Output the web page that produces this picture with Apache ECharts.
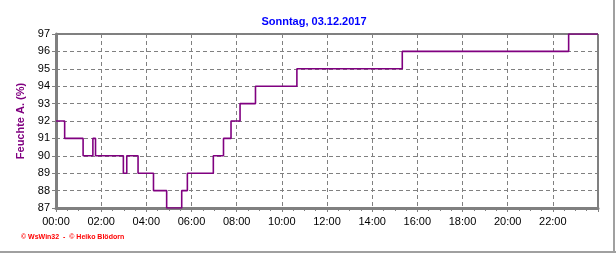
<!DOCTYPE html>
<html>
<head>
<meta charset="utf-8">
<script src="https://cdn.jsdelivr.net/npm/echarts@6/dist/echarts.min.js"></script>
<style>
html,body{margin:0;padding:0;background:#fff;}
#c{width:616px;height:253px;}
</style>
</head>
<body>
<div id="c"></div>
<script>
// Data
const titleText = 'Sonntag, 03.12.2017';
const yAxisName = 'Feuchte A. (%)';
const creditText = '\u00a9 WsWin32  -  \u00a9 Heiko Bl\u00f6dorn';
const changeTimes = ['00:00','00:23','01:12','01:38','01:45','02:59','03:08','03:38','04:19','04:54','05:34','05:49','06:58','07:25','07:45','08:09','08:50','10:40','15:20','22:42','24:00'];
const humidity    = [92, 91, 90, 91, 90, 89, 90, 89, 88, 87, 88, 89, 90, 91, 92, 93, 94, 95, 96, 97, 97];
const xTickLabels = ['00:00','02:00','04:00','06:00','08:00','10:00','12:00','14:00','16:00','18:00','20:00','22:00'];

function toMin(s){const p=s.split(':');return (+p[0])*60+(+p[1]);}
const seriesData = changeTimes.map((t,i)=>[toMin(t), humidity[i]]);

const chart = echarts.init(document.getElementById('c'), null, {renderer:'canvas'});
chart.setOption({
  animation:false,
  backgroundColor:'#ffffff',
  title:{
    text:titleText, left:309, top:11, textAlign:'center',
    textStyle:{color:'#0000ff', fontFamily:'Liberation Sans, Arial, sans-serif', fontSize:11, fontWeight:'bold'}
  },
  grid:{left:56, right:18, top:34, bottom:45, show:true, borderColor:'#000000', borderWidth:1, backgroundColor:'transparent'},
  xAxis:{
    type:'value', min:0, max:1440, interval:120,
    axisLine:{show:true, onZero:false, lineStyle:{color:'#808080', width:3}},
    axisTick:{show:true, length:4, lineStyle:{color:'#808080', width:1}},
    minorTick:{show:true, splitNumber:4, length:3, lineStyle:{color:'#808080', width:1}},
    axisLabel:{
      color:'#000', fontFamily:'Liberation Sans, Arial, sans-serif', fontSize:11, margin:8,
      showMaxLabel:false,
      formatter:(v)=>{const i=Math.round(v/120);return xTickLabels[i]!==undefined?xTickLabels[i]:'';}
    },
    splitLine:{show:true, lineStyle:{color:'#808080', type:[4,3], width:1}}
  },
  yAxis:{
    type:'value', min:87, max:97, interval:1,
    name:yAxisName, nameLocation:'middle', nameGap:25,
    nameTextStyle:{color:'#800080', fontFamily:'Liberation Sans, Arial, sans-serif', fontSize:11, fontWeight:'bold'},
    axisLine:{show:true, lineStyle:{color:'#808080', width:3}},
    axisTick:{show:true, length:4, lineStyle:{color:'#808080', width:1}},
    axisLabel:{color:'#000', fontFamily:'Liberation Sans, Arial, sans-serif', fontSize:11, margin:6},
    splitLine:{show:true, lineStyle:{color:'#808080', type:[4,3], width:1}}
  },
  series:[{
    type:'line', step:'end', data:seriesData, symbol:'none',
    lineStyle:{color:'#800080', width:1.6}, z:3
  }],
  graphic:[
    {type:'text', left:21, top:234, style:{text:creditText, fill:'#ff0000', font:'bold 7px Liberation Sans, Arial, sans-serif'}},
    {type:'line', shape:{x1:614, y1:0, x2:614, y2:253}, style:{stroke:'#a0a0a0', lineWidth:2}},
    {type:'line', shape:{x1:0, y1:252, x2:616, y2:252}, style:{stroke:'#a0a0a0', lineWidth:2}}
  ]
});
</script>
</body>
</html>
